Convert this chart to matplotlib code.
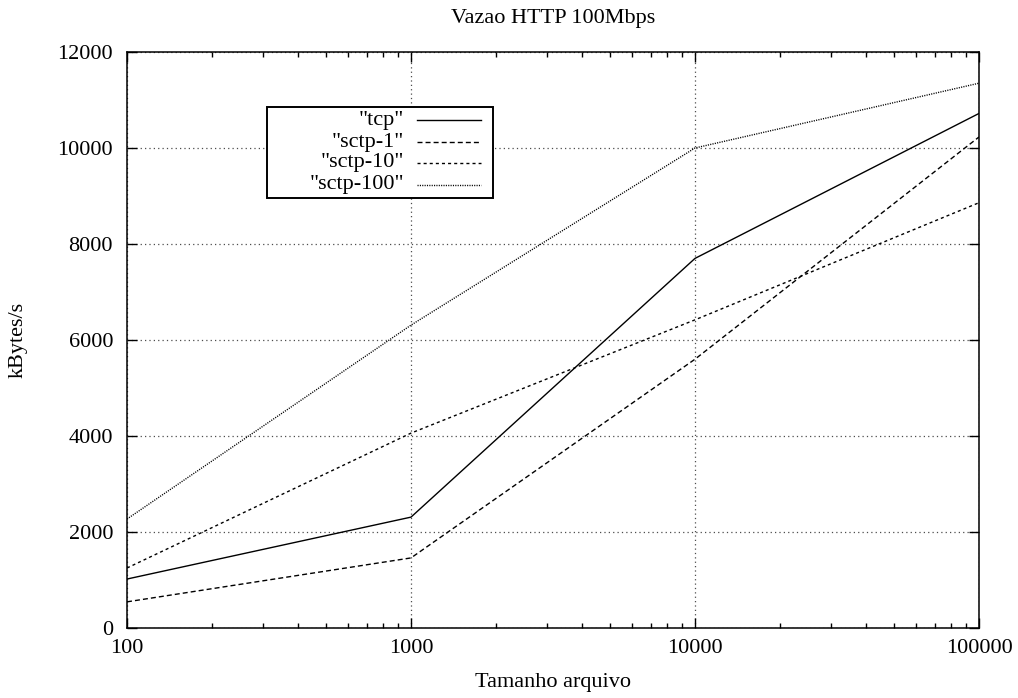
import matplotlib
matplotlib.use("Agg")
import matplotlib.pyplot as plt
from matplotlib.lines import Line2D
from matplotlib.patches import Rectangle
from matplotlib.ticker import FixedLocator, FixedFormatter, LogLocator, NullFormatter

# ---- data -----------------------------------------------------------------
file_sizes = [100, 1000, 10000, 100000]
tcp = [1020, 2310, 7700, 10720]
sctp_1 = [545, 1460, 5600, 10230]
sctp_10 = [1250, 4060, 6420, 8860]
sctp_100 = [2270, 6310, 10000, 11350]

series_names = ['"tcp"', '"sctp-1"', '"sctp-10"', '"sctp-100"']
y_ticks = [0, 2000, 4000, 6000, 8000, 10000, 12000]
x_tick_labels = ["100", "1000", "10000", "100000"]

# ---- layout (pixels of a 1018x698 canvas) --------------------------------
W, H = 1018, 698
AX_L, AX_R, AX_T, AX_B = 127, 979, 52, 628
FS = 16
plt.rcParams["font.family"] = ["Liberation Serif", "DejaVu Serif"]

dash_styles = ["-", (0, (3.6, 2.2)), (0, (2.2, 2.2)), (0, (0.8, 0.9))]


def fx(px):
    return px / W


def fy(py):
    return 1 - py / H


fig = plt.figure(figsize=(W / 100, H / 100), dpi=100)
ax = fig.add_axes([fx(AX_L), fy(AX_B), (AX_R - AX_L) / W, (AX_B - AX_T) / H])

for vals, ls in zip([tcp, sctp_1, sctp_10, sctp_100], dash_styles):
    ax.plot(file_sizes, vals, color="black", lw=1.0, ls=ls)

ax.set_xscale("log")
ax.set_xlim(100, 100000)
ax.set_ylim(0, 12000)
ax.xaxis.set_major_locator(FixedLocator(file_sizes))
ax.xaxis.set_major_formatter(FixedFormatter(x_tick_labels))
ax.xaxis.set_minor_locator(LogLocator(base=10, subs=range(2, 10)))
ax.xaxis.set_minor_formatter(NullFormatter())
ax.set_yticks(y_ticks)
ax.set_yticklabels([str(v) for v in y_ticks])

ax.tick_params(which="both", direction="in", top=True, right=True,
               labelsize=FS, width=1.0, color="black")
ax.tick_params(which="major", length=7)
ax.tick_params(which="minor", length=3.5)
ax.tick_params(axis="y", pad=10)
ax.tick_params(axis="x", pad=8)
for sp in ax.spines.values():
    sp.set_linewidth(1.1)

ax.grid(True, which="major", color="0.3", lw=0.9, ls=(0, (1, 2.5)))
ax.set_axisbelow(True)

fig.text(fx(553), fy(18), "Vazao HTTP 100Mbps", ha="center", va="center",
         fontsize=FS)
fig.text(fx(553), fy(683), "Tamanho arquivo", ha="center", va="center",
         fontsize=FS)
fig.text(fx(18), fy(340), "kBytes/s", ha="center", va="center",
         rotation=90, fontsize=FS)

# gnuplot-style key: labels right-aligned, sample to the right, boxed
box = Rectangle((fx(267), fy(198)), fx(493) - fx(267), fy(107) - fy(198),
                transform=fig.transFigure, facecolor="white",
                edgecolor="black", lw=1.4, zorder=5)
fig.add_artist(box)
row_y = [120, 142, 163, 185]
for name, ls, ry in zip(series_names, dash_styles, row_y):
    fig.text(fx(404), fy(ry), name, ha="right", va="center", fontsize=FS,
             zorder=6)
    fig.add_artist(Line2D([fx(417), fx(481)], [fy(ry), fy(ry)],
                          transform=fig.transFigure, color="black", lw=1.0,
                          ls=ls, zorder=6))

fig.savefig("out.png", dpi=100)
